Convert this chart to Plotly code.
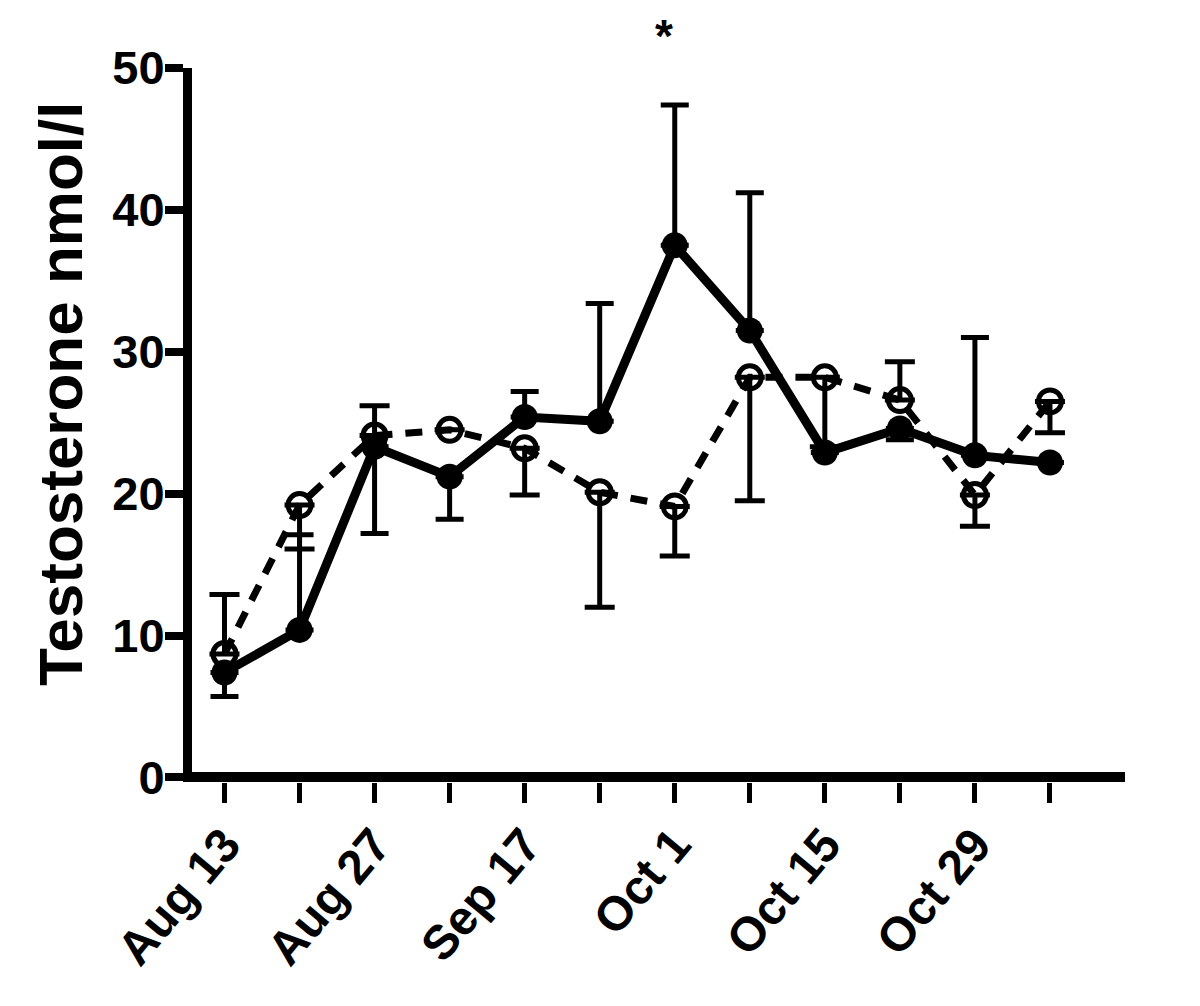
import plotly.graph_objects as go

categories = ["Aug 13", "Aug 20", "Aug 27", "Sep 3", "Sep 17", "Sep 24",
              "Oct 1", "Oct 8", "Oct 15", "Oct 22", "Oct 29", "Nov 5"]
tick_labels = ["Aug 13", "", "Aug 27", "", "Sep 17", "", "Oct 1", "", "Oct 15", "", "Oct 29", ""]
y_ticks = [0, 10, 20, 30, 40, 50]

# filled circles, solid line
solid_mean = [7.4, 10.4, 23.3, 21.2, 25.4, 25.1, 37.5, 31.5, 22.9, 24.6, 22.7, 22.2]
solid_err_up = [0, 6.7, 0, 0, 1.8, 8.3, 9.9, 9.7, 0, 0, 8.3, 0]
solid_err_down = [1.7, 0, 6.1, 3.0, 0, 0, 0, 0, 0, 0.8, 0, 0]

# open circles, dashed line
open_mean = [8.7, 19.2, 24.1, 24.5, 23.2, 20.1, 19.1, 28.2, 28.2, 26.6, 19.9, 26.5]
open_err_up = [4.2, 0, 2.1, 0, 0, 0, 0, 0, 0, 2.7, 0, 0]
open_err_down = [0, 3.1, 0, 0, 3.3, 8.1, 3.5, 8.7, 4.9, 0, 2.2, 2.2]

x = list(range(len(categories)))

fig = go.Figure()
fig.add_trace(go.Scatter(
    x=x, y=open_mean, mode="lines+markers",
    line=dict(color="black", width=7, dash="17px,13px"),
    marker=dict(symbol="circle", size=23, color="rgba(255,255,255,0)", line=dict(color="black", width=5)),
    error_y=dict(type="data", symmetric=False, array=open_err_up, arrayminus=open_err_down,
                 color="black", thickness=5, width=15),
    showlegend=False,
))
fig.add_trace(go.Scatter(
    x=x, y=solid_mean, mode="lines+markers",
    line=dict(color="black", width=9),
    marker=dict(symbol="circle", size=26, color="black"),
    error_y=dict(type="data", symmetric=False, array=solid_err_up, arrayminus=solid_err_down,
                 color="black", thickness=5, width=14),
    showlegend=False,
))

bold_font = "Liberation Sans, Arial, Helvetica"

# significance marker above Oct 1
fig.add_annotation(x=6, y=1, xref="x", yref="paper", text="<b>*</b>", showarrow=False,
                   xanchor="center", yanchor="middle", xshift=-11, yshift=32.5, borderpad=0,
                   font=dict(size=46, color="black", family=bold_font))

# y-axis title
fig.add_annotation(x=0, y=0.5, xref="paper", yref="paper", text="<b>Testosterone nmol/l</b>",
                   showarrow=False, textangle=-90, xanchor="center", yanchor="middle",
                   xshift=-132, yshift=31,
                   font=dict(size=62, color="black", family=bold_font))

fig.update_layout(
    width=1200, height=1006,
    margin=dict(l=183.5, r=83, t=59.5, b=231.5, autoexpand=False),
    plot_bgcolor="white", paper_bgcolor="white",
    font=dict(family=bold_font, color="black"),
    xaxis=dict(range=[-0.433, 12.0], tickvals=x,
               ticktext=[f"<b>{t}</b>" if t else "" for t in tick_labels],
               tickangle=-50, ticks="outside", ticklen=20, tickwidth=5, tickcolor="black",
               showline=False, showgrid=False, zeroline=False, automargin=False,
               ticklabelstandoff=-6,
               tickfont=dict(size=48, family=bold_font)),
    yaxis=dict(range=[-0.32, 50], tickvals=y_ticks,
               ticktext=[f"<b>{v}</b>" for v in y_ticks],
               ticks="outside", ticklen=18, tickwidth=8, tickcolor="black",
               showline=True, linewidth=9, linecolor="black", showgrid=False,
               zeroline=True, zerolinewidth=10, zerolinecolor="black", automargin=False,
               ticklabelstandoff=-9,
               tickfont=dict(size=47, family=bold_font)),
)
fig.write_html("out.html")
